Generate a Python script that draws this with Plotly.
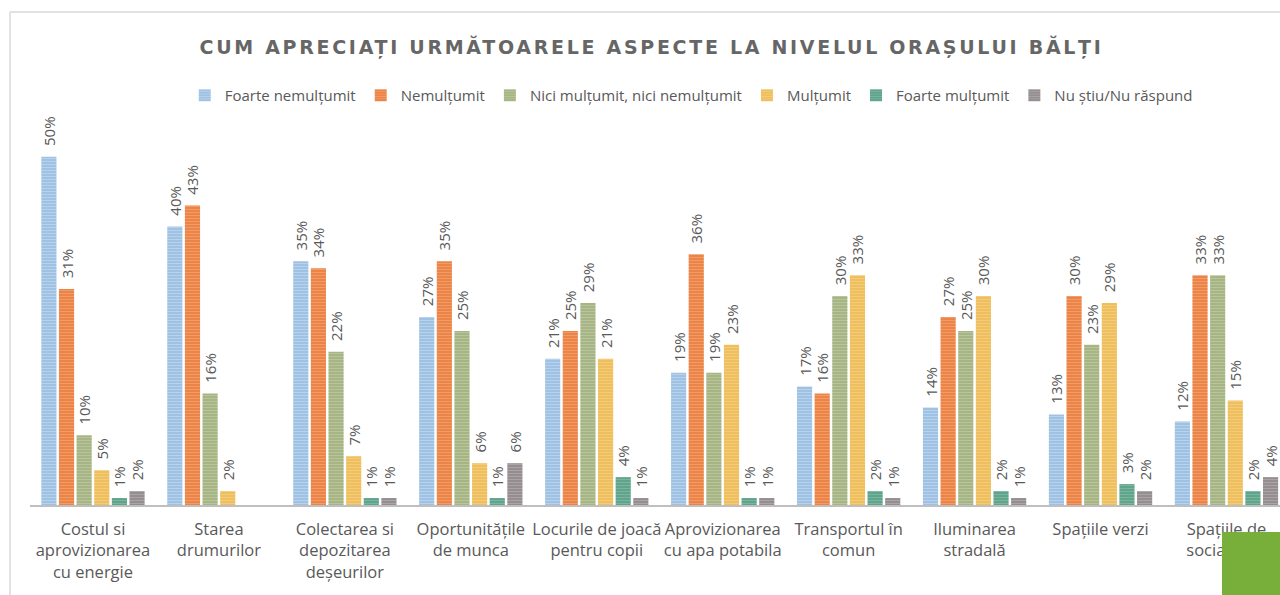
import plotly.graph_objects as go

categorii = [
    'Costul si<br>aprovizionarea<br>cu energie',
    'Starea<br>drumurilor',
    'Colectarea si<br>depozitarea<br>deșeurilor',
    'Oportunitățile<br>de munca',
    'Locurile de joacă<br>pentru copii',
    'Aprovizionarea<br>cu apa potabila',
    'Transportul în<br>comun',
    'Iluminarea<br>stradală',
    'Spațiile verzi',
    'Spațiile de<br>socializare',
]

foarte_nemultumit = [50, 40, 35, 27, 21, 19, 17, 14, 13, 12]
nemultumit = [31, 43, 34, 35, 25, 36, 16, 27, 30, 33]
nici_nici = [10, 16, 22, 25, 29, 19, 30, 25, 23, 33]
multumit = [5, 2, 7, 6, 21, 23, 33, 30, 29, 15]
foarte_multumit = [1, None, 1, 1, 4, 1, 2, 2, 3, 2]
nu_stiu = [2, None, 1, 6, 1, 1, 1, 1, 2, 4]

serii = [
    ('Foarte nemulțumit', foarte_nemultumit, '#9fc2e4', '#d6e6f5'),
    ('Nemulțumit', nemultumit, '#ec8447', '#f6b98f'),
    ('Nici mulțumit, nici nemulțumit', nici_nici, '#a6b583', '#cfd8b9'),
    ('Mulțumit', multumit, '#eebf5c', '#f7dd9f'),
    ('Foarte mulțumit', foarte_multumit, '#5fa48b', '#9ccab8'),
    ('Nu știu/Nu răspund', nu_stiu, '#958e90', '#c4bfc0'),
]

fig = go.Figure()
for nume, valori, culoare, dungi in serii:
    fig.add_trace(go.Bar(
        x=categorii,
        y=valori,
        name=nume,
        marker=dict(
            color=culoare,
            line=dict(width=0),
            pattern=dict(shape='-', fgcolor=dungi, size=3, solidity=0.3),
        ),
        # spatiile nedespartibile lasa distanta dintre bara si eticheta
        text=[f'\u00a0\u00a0{v}%' if v is not None else '' for v in valori],
        textposition='outside',
        textangle=-90,
        constraintext='none',
        cliponaxis=False,
        textfont=dict(size=15, color='#595959'),
    ))

fig.update_layout(
    width=1280,
    height=595,
    margin=dict(l=30, r=0, t=115, b=90),
    paper_bgcolor='white',
    plot_bgcolor='white',
    font=dict(family='Open Sans, sans-serif', color='#595959'),
    barmode='group',
    bargap=0.16,
    bargroupgap=0.14,
    title=dict(
        text='CUM APRECIAȚI URMĂTOARELE ASPECTE LA NIVELUL ORAȘULUI BĂLȚI',
        x=0.509, xanchor='center', y=0.921, yanchor='middle',
        font=dict(family='DejaVu Sans', size=19, color='#666666', weight='bold'),
    ),
    legend=dict(
        orientation='h', x=0.529, xanchor='center', y=1.05, yanchor='middle',
        font=dict(size=15, color='#595959'),
        itemwidth=30, tracegroupgap=0,
    ),
    showlegend=True,
)

fig.update_xaxes(
    range=[-0.5, 9.425],
    showline=True, linecolor='#bfbfbf', linewidth=2,
    ticks='', tickfont=dict(size=16.5, color='#595959'),
    tickangle=0, ticklabelstandoff=8,
)
fig.update_yaxes(range=[0, 56], visible=False, showgrid=False)

# chenarul diagramei
fig.add_shape(type='line', xref='paper', yref='paper',
              x0=-0.016, x1=1.1, y0=1.264, y1=1.264,
              line=dict(color='#d9d9d9', width=1.5))
fig.add_shape(type='line', xref='paper', yref='paper',
              x0=-0.016, x1=-0.016, y0=1.264, y1=-0.3,
              line=dict(color='#d9d9d9', width=1.5))
# dreptunghiul verde din colt
fig.add_shape(type='rect', xref='paper', yref='paper',
              x0=0.9536, x1=1.01, y0=-0.069, y1=-0.3,
              fillcolor='#78ae3a', line=dict(width=0), layer='above')

post = (
    "document.body.style.margin='0';"
    "document.body.style.overflow='hidden';"
    "var d=document.getElementById('{plot_id}');"
    "var t=d ? d.querySelector('.gtitle') : null;"
    "if(t){t.style.letterSpacing='2.7px';}"
)

fig.write_html('out.html', post_script=post, config={'displayModeBar': False})
